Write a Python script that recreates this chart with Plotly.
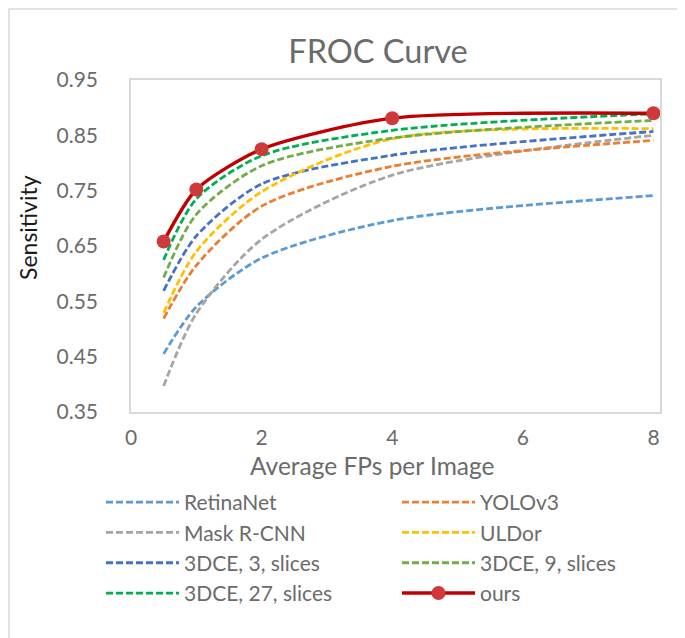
import plotly.graph_objects as go

fps = [0.5, 1, 2, 4, 8]
retinanet = [0.455, 0.540, 0.628, 0.696, 0.741]
yolov3 = [0.519, 0.615, 0.722, 0.794, 0.841]
mask_rcnn = [0.397, 0.528, 0.662, 0.778, 0.850]
uldor = [0.529, 0.640, 0.748, 0.844, 0.862]
dce3 = [0.569, 0.668, 0.762, 0.814, 0.857]
dce9 = [0.593, 0.707, 0.795, 0.845, 0.877]
dce27 = [0.625, 0.735, 0.813, 0.859, 0.889]
ours = [0.658, 0.752, 0.825, 0.881, 0.890]

y_ticks = [0.35, 0.45, 0.55, 0.65, 0.75, 0.85, 0.95]
x_ticks = [0, 2, 4, 6, 8]

W, H = 685, 638
L, R, T, B = 123, 33, 72, 234

FONT = "Lato"
GRAY = "#6b6b6b"

series = [
    ("RetinaNet", retinanet, "#5B9BD5", "legend"),
    ("Mask R-CNN", mask_rcnn, "#A5A5A5", "legend"),
    ("3DCE, 3, slices", dce3, "#4472C4", "legend"),
    ("3DCE, 27, slices", dce27, "#00B050", "legend"),
    ("YOLOv3", yolov3, "#ED7D31", "legend2"),
    ("ULDor", uldor, "#FFC000", "legend2"),
    ("3DCE, 9, slices", dce9, "#70AD47", "legend2"),
]

fig = go.Figure()
for name, vals, col, lg in series:
    fig.add_trace(go.Scatter(
        x=fps, y=vals, name=name, mode="lines", legend=lg, legendgroup=name,
        line=dict(color=col, width=2.8, dash="7px,3px", shape="spline", smoothing=0.8),
    ))
fig.add_trace(go.Scatter(
    x=fps, y=ours, name="ours", mode="lines+markers", legend="legend2", legendgroup="ours",
    line=dict(color="#C00000", width=3.4, shape="spline", smoothing=0.7),
    marker=dict(size=14, color="#D0393C"),
))

pw = W - L - R
ph = H - T - B
leg_common = dict(
    font=dict(family=FONT, size=21, color=GRAY),
    bgcolor="rgba(0,0,0,0)", itemwidth=73, tracegroupgap=0,
    xref="paper", yref="paper", yanchor="top", xanchor="left",
    traceorder="grouped",
)
fig.update_layout(
    width=W, height=H,
    margin=dict(l=L, r=R, t=T, b=B, autoexpand=False),
    paper_bgcolor="white", plot_bgcolor="white",
    title=dict(text="FROC Curve", font=dict(family=FONT, size=32.5, color=GRAY),
               x=370 / W, xanchor="center", y=1 - 44 / H, yanchor="middle",
               xref="container", yref="container"),
    xaxis=dict(range=[0, 8.1], tickvals=x_ticks, showgrid=False, zeroline=False,
               showline=True, mirror=True, linecolor="#D9D9D9", linewidth=1.5,
               tickfont=dict(family=FONT, size=21, color=GRAY), ticks="",
               ticklabelstandoff=6),
    yaxis=dict(range=[0.35, 0.95], tickvals=y_ticks, tickformat=".2f", showgrid=False,
               zeroline=False, showline=True, mirror=True, linecolor="#D9D9D9", linewidth=1.5,
               tickfont=dict(family=FONT, size=21, color=GRAY), ticks="",
               ticklabelstandoff=27),
    annotations=[
        dict(text="Average FPs per Image", xref="paper", yref="paper",
             x=(364 - L) / pw, y=(H - B - 457) / ph, xanchor="center", yanchor="middle",
             showarrow=False, font=dict(family=FONT, size=24.5, color=GRAY)),
        dict(text="Sensitivity", xref="paper", yref="paper", textangle=-90,
             x=(20 - L) / pw, y=(H - B - 220) / ph, xanchor="center", yanchor="middle",
             showarrow=False, font=dict(family=FONT, size=23, color="#1a1a1a")),
    ],
    legend=dict(x=(93 - L) / pw, y=(H - B - 474) / ph, **leg_common),
    legend2=dict(x=(389 - L) / pw, y=(H - B - 474) / ph, **leg_common),
    shapes=[dict(type="rect", xref="paper", yref="paper",
                 x0=-(L - 1) / pw, x1=1 + (R - 1) / pw, y0=-(B - 1) / ph, y1=1 + (T - 1) / ph,
                 line=dict(color="#D9D9D9", width=1.5), layer="below")],
    showlegend=True,
)

fig.write_html("out.html")
